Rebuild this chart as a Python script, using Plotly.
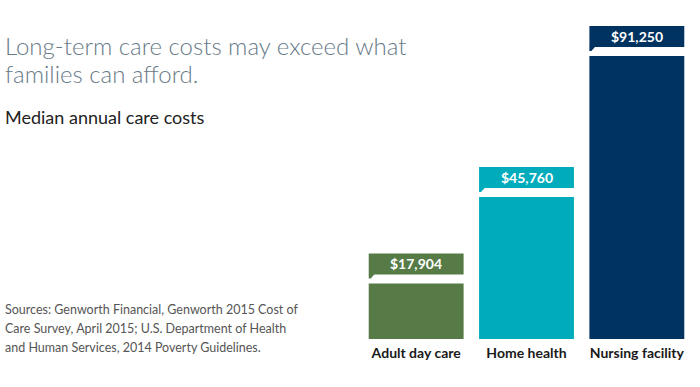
import plotly.graph_objects as go

categories = ["Adult day care", "Home health", "Nursing facility"]
costs = [17904, 45760, 91250]
value_labels = ["$17,904", "$45,760", "$91,250"]
colors = ["#567b47", "#00acbb", "#00335f"]

title_lines = ["Long-term care costs may exceed what", "families can afford."]
subtitle = "Median annual care costs"
source_lines = [
    "Sources: Genworth Financial, Genworth 2015 Cost of",
    "Care Survey, April 2015; U.S. Department of Health",
    "and Human Services, 2014 Poverty Guidelines.",
]

W, H = 700, 387
ML, MR, MT, MB = 361, 8, 10, 48
BAR_W = 0.86
Y_MAX = 106100

pw = W - ML - MR
ph = H - MT - MB

def px_x(p):
    return (p - ML) / pw

def px_y(p):
    return (H - MB - p) / ph

fig = go.Figure()
fig.add_trace(go.Bar(
    x=list(range(len(categories))), y=costs, width=BAR_W,
    marker=dict(color=colors, line=dict(width=0)),
    hoverinfo="skip",
))

shapes = []
annotations = []
for i, (v, lab, c) in enumerate(zip(costs, value_labels, colors)):
    shapes.append(dict(type="rect", xref="x", yref="y", ysizemode="pixel", yanchor=v,
                       x0=i - BAR_W / 2, x1=i + BAR_W / 2, y0=9, y1=30,
                       fillcolor=c, line=dict(width=0), layer="above"))
    shapes.append(dict(type="path", xref="x", yref="y", xsizemode="pixel", ysizemode="pixel",
                       xanchor=i - BAR_W / 2, yanchor=v,
                       path="M 0,9.5 L 6,9.5 L 2,5 L 0,5 Z",
                       fillcolor=c, line=dict(width=0), layer="above"))
    annotations.append(dict(x=i, y=v, xref="x", yref="y", yshift=19.5, yanchor="middle",
                            text=lab, showarrow=False,
                            font=dict(family="Lato", size=14, color="white", weight=700)))

title_font = dict(family="Lato", size=24, color="#687a87", weight=300)
for k, line in enumerate(title_lines):
    annotations.append(dict(x=px_x(3), y=px_y(45 + 28 * k), xref="paper", yref="paper",
                            xanchor="left", yanchor="middle", text=line, showarrow=False,
                            font=title_font))
annotations.append(dict(x=px_x(3), y=px_y(117), xref="paper", yref="paper",
                        xanchor="left", yanchor="middle", text=subtitle, showarrow=False,
                        font=dict(family="Lato", size=18, color="#222222", weight=400)))
for k, line in enumerate(source_lines):
    annotations.append(dict(x=px_x(3), y=px_y(309 + 19 * k), xref="paper", yref="paper",
                            xanchor="left", yanchor="middle", text=line, showarrow=False,
                            font=dict(family="Lato", size=12.5, color="#555555")))

fig.update_layout(
    width=W, height=H,
    margin=dict(l=ML, r=MR, t=MT, b=MB),
    plot_bgcolor="white", paper_bgcolor="white",
    showlegend=False,
    shapes=shapes, annotations=annotations,
    xaxis=dict(range=[-0.5, len(categories) - 0.5], tickvals=list(range(len(categories))),
               ticktext=categories, showgrid=False, zeroline=False, showline=False,
               ticks="", ticklabelstandoff=4, fixedrange=True,
               tickfont=dict(family="Lato", size=14, color="#1a1a1a", weight=700)),
    yaxis=dict(range=[0, Y_MAX], visible=False, showgrid=False, zeroline=False, fixedrange=True),
)

fig.write_html("out.html", config={"displayModeBar": False},
               post_script="document.body.style.margin='0';document.body.style.overflow='hidden';")
